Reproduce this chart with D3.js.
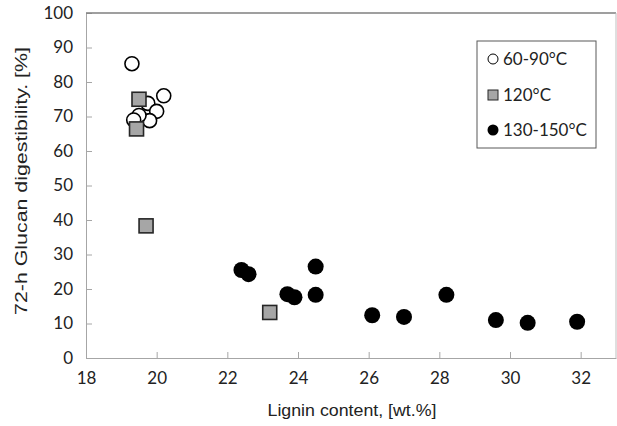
<!DOCTYPE html>
<html>
<head>
<meta charset="utf-8">
<script src="https://cdn.jsdelivr.net/npm/d3@7"></script>
<style>
  body { margin: 0; background: #fff; }
  .tick text { font-family: Lato, "Open Sans", sans-serif; font-size: 17px; fill: #222; }
  .title { font-family: "Liberation Sans", Arial, sans-serif; font-size: 17px; fill: #222; }
  .leg { font-family: Lato, "Open Sans", sans-serif; font-size: 17px; fill: #222; }
</style>
</head>
<body>
<svg id="chart" width="617" height="426"></svg>
<script>
// 60-90°C (open circles)
var lowX = [19.3, 20.2, 19.75, 20.0, 19.8, 19.5, 19.35];
var lowY = [85.3, 76.0, 73.8, 71.5, 68.8, 70.3, 69.0];
// 120°C (grey squares)
var midX = [19.5, 19.43, 19.7, 23.2];
var midY = [75.0, 66.4, 38.3, 13.2];
// 130-150°C (black circles)
var highX = [22.4, 22.6, 24.5, 23.7, 23.9, 24.5, 26.1, 27.0, 28.2, 29.6, 30.5, 31.9];
var highY = [25.5, 24.3, 26.5, 18.5, 17.6, 18.3, 12.4, 11.9, 18.3, 11.0, 10.2, 10.5];

var xTicks = [18, 20, 22, 24, 26, 28, 30, 32];
var yTicks = [0, 10, 20, 30, 40, 50, 60, 70, 80, 90, 100];
var legendLabels = ['60-90°C', '120°C', '130-150°C'];

var svg = d3.select('#chart');
var pLeft = 86, pRight = 616, pTop = 13, pBottom = 358;

var x = d3.scaleLinear().domain([18, 33]).range([pLeft, pRight]);
var y = d3.scaleLinear().domain([0, 100]).range([pBottom, pTop]);

// x axis, ticks pointing in
var gx = svg.append('g')
    .attr('transform', 'translate(0,' + pBottom + ')')
    .call(d3.axisBottom(x).tickValues(xTicks).tickSizeInner(-6).tickSizeOuter(0).tickPadding(14));
gx.select('.domain').attr('stroke', '#a6a6a6');
gx.selectAll('.tick line').attr('stroke', '#a6a6a6');

var gy = svg.append('g')
    .attr('transform', 'translate(' + pLeft + ',0)')
    .call(d3.axisLeft(y).tickValues(yTicks).tickSizeInner(-6).tickSizeOuter(0).tickPadding(13));
gy.select('.domain').attr('stroke', '#a6a6a6');
gy.selectAll('.tick line').attr('stroke', '#a6a6a6');

// top and right frame
svg.append('line').attr('x1', pLeft).attr('x2', pRight).attr('y1', pTop).attr('y2', pTop)
    .attr('stroke', '#7f7f7f').attr('stroke-width', 1.5);
svg.append('line').attr('x1', pRight).attr('x2', pRight).attr('y1', pTop).attr('y2', pBottom)
    .attr('stroke', '#bfbfbf').attr('stroke-width', 1);

// open circles
svg.append('g').selectAll('circle')
    .data(d3.range(lowX.length))
    .join('circle')
    .attr('cx', function(i){ return x(lowX[i]); })
    .attr('cy', function(i){ return y(lowY[i]); })
    .attr('r', 7)
    .attr('fill', '#fff')
    .attr('stroke', '#000')
    .attr('stroke-width', 1.6);

// grey squares
svg.append('g').selectAll('rect')
    .data(d3.range(midX.length))
    .join('rect')
    .attr('x', function(i){ return x(midX[i]) - 7; })
    .attr('y', function(i){ return y(midY[i]) - 7; })
    .attr('width', 14)
    .attr('height', 14)
    .attr('fill', '#a6a6a6')
    .attr('stroke', '#262626')
    .attr('stroke-width', 1.6);

// black circles
svg.append('g').selectAll('circle')
    .data(d3.range(highX.length))
    .join('circle')
    .attr('cx', function(i){ return x(highX[i]); })
    .attr('cy', function(i){ return y(highY[i]); })
    .attr('r', 8)
    .attr('fill', '#000');

// axis titles
svg.append('text').attr('class', 'title')
    .attr('x', 352).attr('y', 416)
    .attr('text-anchor', 'middle')
    .attr('textLength', 169)
    .attr('lengthAdjust', 'spacingAndGlyphs')
    .text('Lignin content, [wt.%]');

svg.append('text').attr('class', 'title')
    .attr('transform', 'translate(27,181) rotate(-90)')
    .attr('text-anchor', 'middle')
    .attr('textLength', 268)
    .attr('lengthAdjust', 'spacingAndGlyphs')
    .text('72-h Glucan digestibility. [%]');

// legend
var leg = svg.append('g');
leg.append('rect')
    .attr('x', 477).attr('y', 41).attr('width', 119).attr('height', 107)
    .attr('fill', '#fff').attr('stroke', '#595959').attr('stroke-width', 1);

var rowY = [59, 95, 130];
leg.append('circle').attr('cx', 493).attr('cy', rowY[0]).attr('r', 5)
    .attr('fill', '#fff').attr('stroke', '#000').attr('stroke-width', 1);
leg.append('rect').attr('x', 488).attr('y', rowY[1] - 5).attr('width', 10).attr('height', 10)
    .attr('fill', '#a6a6a6').attr('stroke', '#262626').attr('stroke-width', 1);
leg.append('circle').attr('cx', 493).attr('cy', rowY[2]).attr('r', 5.5)
    .attr('fill', '#000');

leg.selectAll('text')
    .data(legendLabels)
    .join('text')
    .attr('class', 'leg')
    .attr('x', 503)
    .attr('y', function(d, i){ return rowY[i]; })
    .attr('dy', '0.35em')
    .text(function(d){ return d; });
</script>
</body>
</html>
